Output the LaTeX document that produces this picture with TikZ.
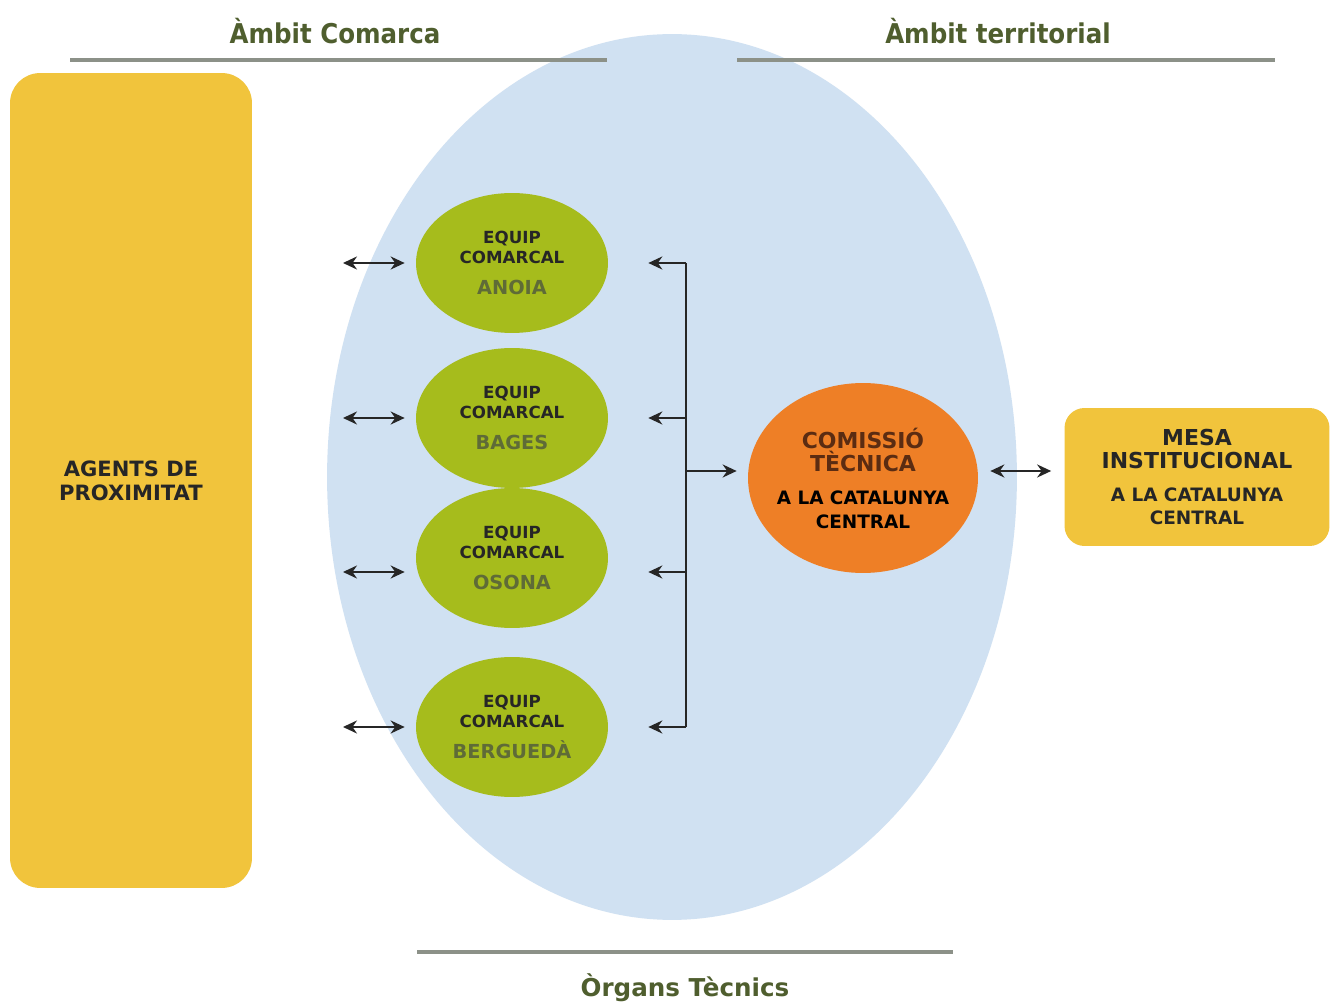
\documentclass[tikz,border=0pt]{standalone}
\usepackage{fontspec}
\setmainfont{DejaVu Sans}
\newfontfamily\condfont{DejaVu Sans Condensed}
\usetikzlibrary{shapes.geometric,arrows.meta}
\definecolor{skyblue}{HTML}{D0E1F2}
\definecolor{goldbox}{HTML}{F1C43C}
\definecolor{olivefill}{HTML}{A6BC1C}
\definecolor{orangefill}{HTML}{EE7F26}
\definecolor{headtext}{HTML}{4F5E2E}
\definecolor{rulegray}{HTML}{8C9188}
\definecolor{nametext}{HTML}{5F6B37}
\definecolor{browntext}{HTML}{5B2C12}
\def\bigoval{(672,477) ellipse (6.9cm and 8.86cm)}
\def\pagebox{(0,0) rectangle (1330,1006)}
\newcommand\eqtext[1]{EQUIP\\COMARCAL\\[6pt]
  \color{nametext}\fontsize{11}{13}\selectfont #1}
\tikzset{
  equip/.style={ellipse, fill=olivefill, minimum width=3.84cm, minimum height=2.8cm,
    inner sep=-0.2cm, align=center, font=\bfseries\fontsize{9.5}{11.5}\selectfont,
    text=black!85},
  goldrect/.style={fill=goldbox, rounded corners=0.6cm, align=center,
    text=black!85, inner sep=0pt},
  heading/.style={text=headtext, font=\bfseries},
  rulerline/.style={rulegray, line width=1.8pt},
  arr/.style={-{Stealth[length=0.28cm,width=0.26cm]}, line width=1.7pt, black!85},
  dblarr/.style={{Stealth[length=0.28cm,width=0.26cm]}-{Stealth[length=0.28cm,width=0.26cm]},
    line width=1.7pt, black!85}
}

\begin{document}
\begin{tikzpicture}[x=0.02cm, y=-0.02cm]
\useasboundingbox[fill=white] \pagebox;
\fill[skyblue] \bigoval;

\draw[rulerline] (70,60) -- (607,60);
\draw[rulerline] (737,60) -- (1275,60);
\draw[rulerline] (417,952) -- (953,952);
\node[heading] (hcom) at (335,31) {\condfont\fontsize{15.5}{18}\selectfont Àmbit Comarca};
\node[heading] (hter) at (998,31) {\condfont\fontsize{15.5}{18}\selectfont Àmbit territorial};
\node[heading] (horg) at (685,988) {\fontsize{14}{17}\selectfont Òrgans Tècnics};

\node[goldrect, minimum width=4.84cm, minimum height=16.3cm,
  font=\bfseries\fontsize{12}{13.5}\selectfont] (agents) at (131,480.5)
  {AGENTS DE\\PROXIMITAT};

\node[equip] (eqA) at (512,263) {\eqtext{ANOIA}};
\node[equip] (eqB) at (512,418) {\eqtext{BAGES}};
\node[equip] (eqO) at (512,558) {\eqtext{OSONA}};
\node[equip] (eqG) at (512,727) {\eqtext{BERGUEDÀ}};

\node[ellipse, fill=orangefill, minimum width=4.6cm, minimum height=3.8cm, inner sep=-0.4cm,
  align=center, font=\bfseries\fontsize{12.5}{13.5}\selectfont, text=browntext] (com) at (863,478)
  {COMISSIÓ\\TÈCNICA\\[5pt]
   \color{black}\fontsize{10.5}{12.5}\selectfont A LA CATALUNYA\\
   \color{black}\fontsize{10.5}{12.5}\selectfont CENTRAL};

\node[goldrect, minimum width=5.3cm, minimum height=2.76cm, rounded corners=0.4cm,
  font=\bfseries\fontsize{12.5}{13.5}\selectfont] (mesa) at (1197,477)
  {MESA\\INSTITUCIONAL\\[5pt]
   \fontsize{10.5}{12.5}\selectfont A LA CATALUNYA\\
   \fontsize{10.5}{12.5}\selectfont CENTRAL};

\coordinate (lfA) at (343,263);
\coordinate (lfB) at (343,418);
\coordinate (lfO) at (343,572);
\coordinate (lfG) at (343,727);
\coordinate (brA) at (686,263);
\coordinate (brB) at (686,418);
\coordinate (brO) at (686,572);
\coordinate (brG) at (686,727);
\coordinate (brM) at (686,471);

\foreach \k in {A,B,O,G} {
  \draw[dblarr, shorten >=0.22cm] (lf\k) -- (lf\k -| eq\k.west);
  \draw[arr, shorten >=0.8cm] (br\k) -- (br\k -| eq\k.east);
}
\draw[line width=1.7pt, black!85] (brA) -- (brG);
\draw[arr, shorten >=0.22cm] (brM) -- (brM -| com.west);
\draw[dblarr, shorten <=0.24cm, shorten >=0.26cm] (com.east |- brM) -- (mesa.west |- brM);
\end{tikzpicture}
\end{document}
